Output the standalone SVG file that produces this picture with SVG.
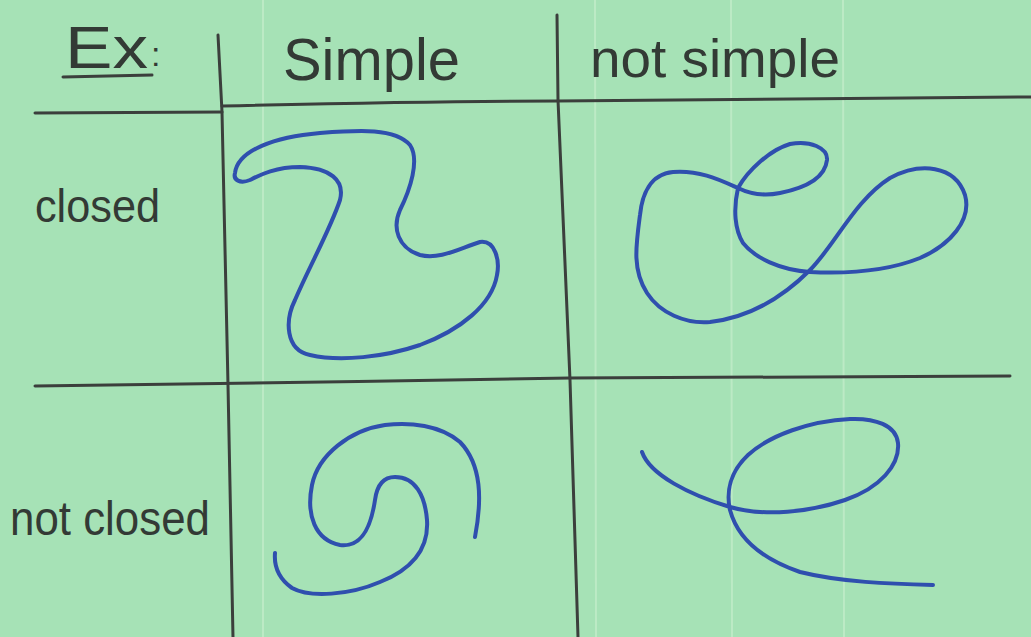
<svg xmlns="http://www.w3.org/2000/svg" width="1031" height="637" viewBox="0 0 1031 637">
<style>
.grid{fill:none;stroke:#3b3f3c;stroke-width:3;stroke-linecap:round;stroke-linejoin:round}
.curve{fill:none;stroke:#2f4fae;stroke-width:4;stroke-linecap:round;stroke-linejoin:round}
.hand{font-family:"Liberation Sans","DejaVu Sans",sans-serif;fill:#333a35}
.paper{stroke:#c2ecc9;stroke-width:2;opacity:0.8}
</style>
<rect x="0" y="0" width="1031" height="637" fill="#a6e2b6"/>
<g id="paper-lines">
<line class="paper" x1="263" y1="0" x2="263" y2="637"/>
<line class="paper" x1="595" y1="0" x2="596" y2="637"/>
<line class="paper" x1="731" y1="0" x2="732" y2="637"/>
<line class="paper" x1="843" y1="0" x2="844" y2="637"/>
</g>
<g id="grid">
<path class="grid" d="M35,113 L222,112"/>
<path class="grid" d="M222,106 C350,103 450,101 557,101 C700,100 880,98 1031,97"/>
<path class="grid" d="M35,386 C150,385 400,381 570,378 C750,377 900,376 1010,376"/>
<path class="grid" d="M218,35 L222,112 L228,385 L233,637"/>
<path class="grid" d="M557,15 L558,100 L570,380 L578,637"/>
</g>
<g id="labels">
<text class="hand" x="65" y="68" font-size="60" textLength="83" lengthAdjust="spacingAndGlyphs">Ex</text>
<path class="grid" d="M63,77 L152,75" stroke-width="2.5"/>
<text class="hand" x="151" y="66" font-size="34">:</text>
<text class="hand" x="283" y="80" font-size="60" textLength="177" lengthAdjust="spacingAndGlyphs">Simple</text>
<text class="hand" x="590" y="77" font-size="54" textLength="250" lengthAdjust="spacingAndGlyphs">not simple</text>
<text class="hand" x="35" y="222" font-size="46" textLength="125" lengthAdjust="spacingAndGlyphs">closed</text>
<text class="hand" x="10" y="535" font-size="48" textLength="200" lengthAdjust="spacingAndGlyphs">not closed</text>
</g>
<g id="simple-closed">
<path class="curve" d="M235,173 C238,150 275,137 320,133 C360,130 395,128 410,145 C420,160 410,190 400,210 C392,228 398,248 420,255 C440,260 460,248 480,242 C495,240 500,260 497,275 C492,305 460,330 420,345 C385,357 340,362 310,355 C285,350 285,320 295,300 C310,265 330,230 340,200 C345,180 330,168 300,167 C275,167 260,175 250,180 C240,184 233,180 235,173 Z"/>
</g>
<g id="not-simple-closed">
<path class="curve" d="M738,188 C720,180 700,170 673,172 C650,174 642,195 640,215 C636,245 632,270 647,293 C660,313 685,324 710,322 C745,318 780,300 810,270 C835,245 855,200 890,178 C920,162 955,165 965,195 C972,220 950,245 920,258 C890,270 850,274 810,272 C780,270 755,258 743,243 C735,230 733,210 738,188 C748,170 770,150 790,144 C810,140 828,148 827,160 C825,178 805,188 780,193 C765,196 750,194 738,188 Z"/>
</g>
<g id="simple-not-closed">
<path class="curve" d="M475,537 C482,500 482,465 460,442 C440,425 410,422 385,425 C350,430 318,455 312,485 C306,515 315,540 340,545 C365,548 372,520 375,500 C377,485 383,477 395,477 C415,477 425,495 427,520 C429,550 410,570 380,582 C350,595 310,598 292,588 C278,578 274,565 275,553"/>
</g>
<g id="not-simple-not-closed">
<path class="curve" d="M642,452 C650,475 690,495 730,507 C765,517 810,512 845,500 C880,488 900,465 898,443 C896,425 875,418 850,419 C810,421 770,435 748,455 C730,472 726,492 730,510 C738,540 765,560 800,572 C840,582 890,584 933,585"/>
</g>
</svg>
